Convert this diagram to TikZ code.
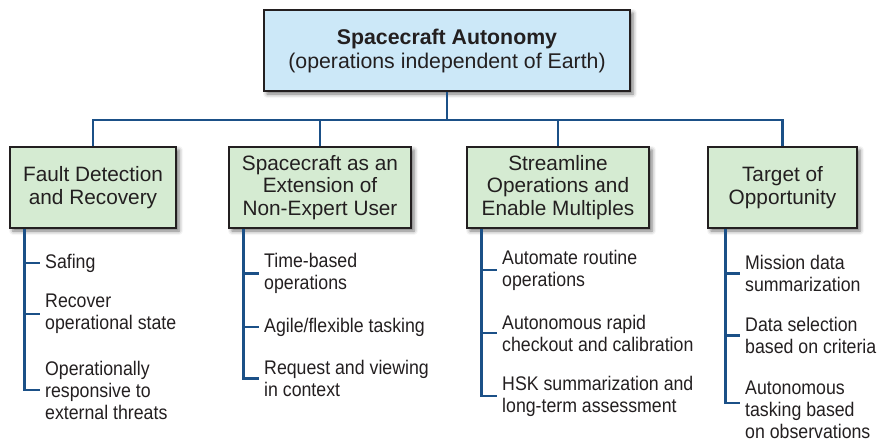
\documentclass[tikz,border=0pt]{standalone}
\usepackage{fontspec}
\setmainfont{Liberation Sans}
\newfontfamily\condfont[FakeStretch=0.9]{Liberation Sans}
\usetikzlibrary{shadows.blur}
\definecolor{topfill}{HTML}{CCE8F8}
\definecolor{midfill}{HTML}{D5EBD2}
\definecolor{linkblue}{HTML}{1B5087}
\definecolor{ink}{HTML}{231F20}
\begin{document}
\begin{tikzpicture}[x=1pt,y=-1pt,
 boxstyle/.style={draw=ink, line width=1.6pt, text=ink, align=center, inner sep=0pt,
   blur shadow={shadow xshift=3pt, shadow yshift=-3pt, shadow blur radius=4pt, shadow opacity=55}},
 topbox/.style={boxstyle, fill=topfill, minimum width=366pt, minimum height=81pt, font=\fontsize{21.3}{24}\selectfont},
 midbox/.style={boxstyle, fill=midfill, minimum height=81pt, font=\fontsize{20.8}{22.5}\selectfont},
 item/.style={anchor=west, align=left, text=ink, inner xsep=5pt, inner ysep=0pt, font=\condfont\fontsize{19.7}{22}\selectfont},
 link/.style={draw=linkblue, line width=2.8pt},
]
\useasboundingbox (0,0) rectangle (880,445);

\node[topbox] (top) at (447,50.5) {\textbf{Spacecraft Autonomy}\\(operations independent of Earth)};
\node[midbox, minimum width=166pt] (b1) at (93,187.5) {Fault Detection\\and Recovery};
\node[midbox, minimum width=182pt] (b2) at (320,187.5) {Spacecraft as an\\Extension of\\Non-Expert User};
\node[midbox, minimum width=182pt] (b3) at (558,187.5) {Streamline\\Operations and\\Enable Multiples};
\node[midbox, minimum width=149pt] (b4) at (782.5,187.5) {Target of\\Opportunity};

% items
\node[item] (i11) at (40,263) {Safing};
\node[item] (i12) at (40,314) {Recover\\operational state};
\node[item] (i13) at (40,390) {Operationally\\responsive to\\external threats};

\node[item] (i21) at (259,273.5) {Time-based\\operations};
\node[item] (i22) at (259,327) {Agile/flexible tasking};
\node[item] (i23) at (259,378.5) {Request and viewing\\in context};

\node[item] (i31) at (497,270) {Automate routine\\operations};
\node[item] (i32) at (497,333) {Autonomous rapid\\checkout and calibration};
\node[item] (i33) at (497,396) {HSK summarization and\\long-term assessment};

\node[item] (i41) at (740,273.5) {Mission data\\summarization};
\node[item] (i42) at (740,335.5) {Data selection\\based on criteria};
\node[item] (i43) at (740,410) {Autonomous\\tasking based\\on observations};

% tree connectors
\coordinate (bus) at (0,120);
\draw[link] (top.south) -- (top.south |- bus);
\draw[link] (b1.north) -- (b1.north |- bus) -- (b4.north |- bus) -- (b4.north);
\draw[link] (b2.north |- bus) -- (b2.north);
\draw[link] (b3.north |- bus) -- (b3.north);

% item connectors
\coordinate (s1) at ([xshift=15pt]b1.south west);
\draw[link] (s1) |- (i13.west);
\draw[link] (s1 |- i11.west) -- (i11.west);
\draw[link] (s1 |- i12.west) -- (i12.west);

\coordinate (s2) at ([xshift=15pt]b2.south west);
\draw[link] (s2) |- (i23.west);
\draw[link] (s2 |- i21.west) -- (i21.west);
\draw[link] (s2 |- i22.west) -- (i22.west);

\coordinate (s3) at ([xshift=15pt]b3.south west);
\draw[link] (s3) |- (i33.west);
\draw[link] (s3 |- i31.west) -- (i31.west);
\draw[link] (s3 |- i32.west) -- (i32.west);

\coordinate (s4) at ([xshift=18pt]b4.south west);
\draw[link] (s4) |- ([yshift=7pt]i43.west);
\draw[link] (s4 |- i41.west) -- (i41.west);
\draw[link] (s4 |- i42.west) -- (i42.west);
\end{tikzpicture}
\end{document}
